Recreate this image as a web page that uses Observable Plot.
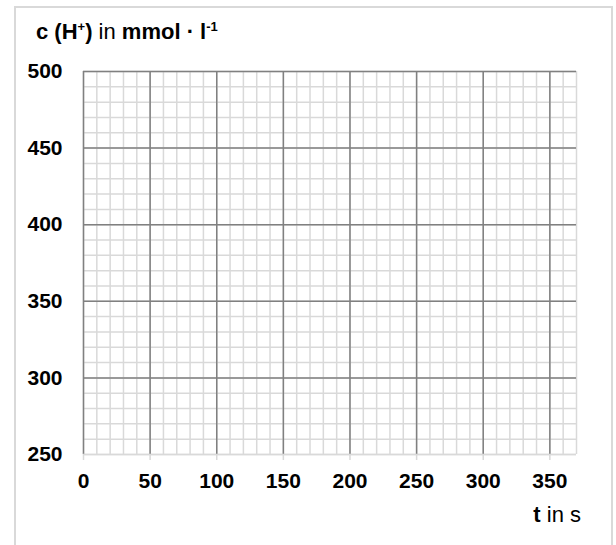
<!DOCTYPE html>
<html>
<head>
<meta charset="utf-8">
<script src="https://cdn.jsdelivr.net/npm/d3@7"></script>
<script src="https://cdn.jsdelivr.net/npm/@observablehq/plot@0.6"></script>
<style>
  html, body { margin: 0; padding: 0; background: #fff; }
  #chart { position: relative; width: 616px; height: 545px; overflow: hidden; }
  #frame { position: absolute; left: 14px; top: 6px; width: 599px; height: 560px; border: 2px solid #d9d9d9; border-bottom: none; box-sizing: border-box; }
  #chart svg { position: absolute; left: 0; top: 0; }
</style>
</head>
<body>
<div id="chart"><div id="frame"></div></div>
<script>
// Axis data
const xDomain = [0, 370];
const yDomain = [250, 500];
const xMajorTicks = [0, 50, 100, 150, 200, 250, 300, 350];
const yMajorTicks = [250, 300, 350, 400, 450, 500];
const xMinorTicks = d3.range(0, 371, 10);
const yMinorTicks = d3.range(250, 501, 10);
const yAxisTitle = ["c (H", "+", ")", " in ", "mmol", " · ", "l", "-1"];
const xAxisTitle = ["t", " in s"];

const font = "'Liberation Sans', Arial, sans-serif";

const plot = Plot.plot({
  width: 616,
  height: 545,
  marginLeft: 83,
  marginTop: 71,
  marginRight: 40,
  marginBottom: 91,
  style: { fontFamily: font, background: "transparent", overflow: "visible" },
  x: { type: "linear", domain: xDomain, axis: null },
  y: { type: "linear", domain: yDomain, axis: null },
  marks: [
    Plot.ruleX(xMinorTicks, { stroke: "#d9d9d9", strokeWidth: 1.5 }),
    Plot.ruleY(yMinorTicks, { stroke: "#d9d9d9", strokeWidth: 1.5 }),
    Plot.ruleX(xMajorTicks, { stroke: "#808080", strokeWidth: 1.5 }),
    Plot.ruleY(yMajorTicks.filter(d => d !== 250), { stroke: "#808080", strokeWidth: 1.5 }),
    Plot.ruleY([250], { stroke: "#d9d9d9", strokeWidth: 1.5 }),
    Plot.axisX(xMajorTicks, {
      tickSize: 6, stroke: "#d9d9d9", strokeWidth: 1.5, tickFormat: () => "", label: null
    }),
    Plot.text(xMajorTicks, {
      x: d => d, frameAnchor: "bottom", dy: 33, text: d => String(d),
      fontSize: 21, fontWeight: "bold", fill: "#000", textAnchor: "middle"
    }),
    Plot.text(yMajorTicks, {
      y: d => d, frameAnchor: "left", dx: -21, text: d => String(d),
      fontSize: 21, fontWeight: "bold", fill: "#000", textAnchor: "end"
    })
  ]
});

document.getElementById("chart").appendChild(plot);

const svg = d3.select(plot);
// y axis title
const t1 = svg.append("text")
  .attr("x", 36).attr("y", 39).attr("text-anchor", "start")
  .attr("font-family", font).attr("font-size", 22).attr("fill", "#000");
t1.append("tspan").attr("font-weight", "bold").text(yAxisTitle[0]);
t1.append("tspan").attr("font-weight", "bold").attr("font-size", 13).attr("dy", -8).text(yAxisTitle[1]);
t1.append("tspan").attr("font-weight", "bold").attr("dy", 8).text(yAxisTitle[2]);
t1.append("tspan").text(yAxisTitle[3]);
t1.append("tspan").attr("font-weight", "bold").text(yAxisTitle[4]);
t1.append("tspan").attr("font-weight", "bold").text(yAxisTitle[5]);
t1.append("tspan").attr("font-weight", "bold").text(yAxisTitle[6]);
t1.append("tspan").attr("font-weight", "bold").attr("font-size", 13).attr("dy", -8).text(yAxisTitle[7]);

// x axis title
const t2 = svg.append("text")
  .attr("x", 581).attr("y", 522).attr("text-anchor", "end")
  .attr("font-family", font).attr("font-size", 22).attr("fill", "#000");
t2.append("tspan").attr("font-weight", "bold").text(xAxisTitle[0]);
t2.append("tspan").text(xAxisTitle[1]);
</script>
</body>
</html>
